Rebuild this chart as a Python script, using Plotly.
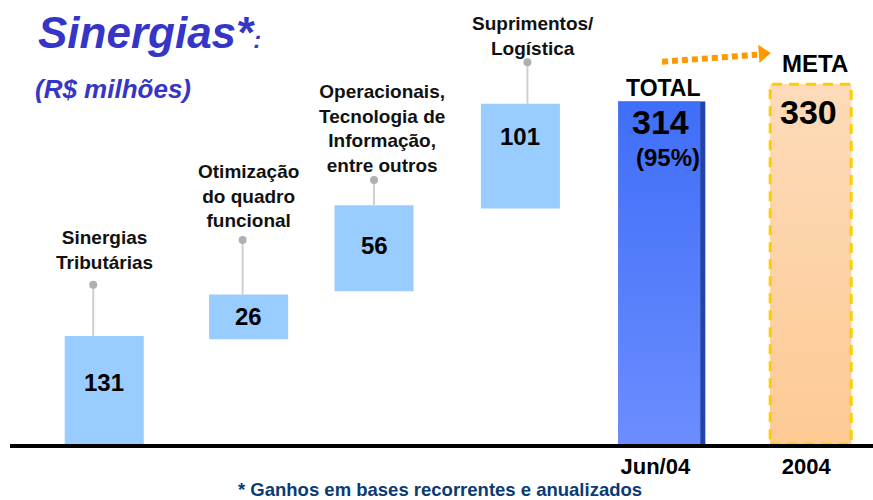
import plotly.graph_objects as go

# ---------------- data ----------------
categorias = ["Sinergias<br>Tributárias",
              "Otimização<br>do quadro<br>funcional",
              "Operacionais,<br>Tecnologia de<br>Informação,<br>entre outros",
              "Suprimentos/<br>Logística"]
valores = [131, 26, 56, 101]          # componentes (R$ milhões)
total_valor = 314
total_percentual = "(95%)"
meta_valor = 330
periodos = ["Jun/04", "2004"]
# extents as drawn in the (schematic) original chart, in chart units
base_desenho = [0, 96, 140, 216]
altura_desenho = [99, 41, 79, 96]
y_ponto = [146, 187, 242, 350]        # heights of the connector dots

# ---------------- styles ----------------
FONT = "Liberation Sans, Arial, sans-serif"
AZUL_CLARO = "#99ccff"
W_BAR = 0.563
W_TOT = 0.62
W_META = 0.577
PX = 140.4  # px per category unit
desloc_px = [2, 6, -9, -3, -2, 6.5]     # small horizontal nudges of each bar (px)
conector_px = [-11, -6, 0, 7]           # connector offset from bar centre (px)
rotulo_px = [0, 0, 8, 13]               # label offset from bar centre (px)
rotulo_yshift = [10, 7, 2, 1]

n = len(valores)
xs = list(range(n))
x_tot = n
x_meta = n + 1
d = [v / PX for v in desloc_px]

fig = go.Figure()

# component bars
fig.add_trace(go.Bar(x=xs, y=altura_desenho, base=base_desenho, width=W_BAR,
                     offset=[-W_BAR / 2 + d[i] for i in xs],
                     marker=dict(color=AZUL_CLARO, line=dict(width=0)),
                     hoverinfo="skip"))

# total bar: dark edge, gradient body, light left strip
xt0 = x_tot - W_TOT / 2 + d[4]
fig.add_trace(go.Bar(x=[x_tot], y=[total_valor], width=W_TOT, offset=xt0 - x_tot,
                     marker=dict(color="#2443a6", line=dict(width=0)), hoverinfo="skip"))
xt1 = xt0 + W_TOT - 5 / PX
fig.add_trace(go.Scatter(x=[xt0, xt0, xt1, xt1], y=[0, total_valor, total_valor, 0],
                         mode="lines", line=dict(width=0), fill="toself",
                         fillgradient=dict(type="vertical",
                                           colorscale=[[0, "#6b8dff"], [1, "#3f6ef7"]]),
                         hoverinfo="skip"))
fig.add_trace(go.Bar(x=[x_tot], y=[total_valor], width=4 / PX, offset=xt0 - x_tot,
                     marker=dict(color="#7d9cff", line=dict(width=0)), hoverinfo="skip"))

# meta bar
xm0 = x_meta - W_META / 2 + d[5]
xm1 = xm0 + W_META
fig.add_trace(go.Bar(x=[x_meta], y=[meta_valor], width=W_META, offset=xm0 - x_meta,
                     marker=dict(color="#fdd3a6", line=dict(width=0)), hoverinfo="skip"))
fig.add_trace(go.Scatter(x=[xm0, xm0, xm1, xm1], y=[0, meta_valor, meta_valor, 0],
                         mode="lines", line=dict(width=0), fill="toself",
                         fillgradient=dict(type="vertical",
                                           colorscale=[[0, "#fdca94"], [1, "#fddbba"]]),
                         hoverinfo="skip"))
fig.add_shape(type="rect", xref="x", yref="y", x0=xm0, x1=xm1, y0=0, y1=meta_valor,
              line=dict(color="#ffcc00", width=3, dash="10px,7px"), layer="above")

# connectors and dots
xc = [i + d[i] + conector_px[i] / PX for i in xs]
for i in xs:
    top = base_desenho[i] + altura_desenho[i]
    fig.add_trace(go.Scatter(x=[xc[i], xc[i]], y=[top, y_ponto[i]], mode="lines",
                             line=dict(color="#cfcfcf", width=2), hoverinfo="skip"))
fig.add_trace(go.Scatter(x=xc, y=y_ponto, mode="markers",
                         marker=dict(color="#b0b0b0", size=8), hoverinfo="skip"))

# dotted arrow towards META
fig.add_trace(go.Scatter(x=[x_tot - 0.013, x_tot + 0.664], y=[350.5, 357],
                         mode="lines", line=dict(color="#ff9900", width=6, dash="6px,4px"),
                         hoverinfo="skip"))
fig.add_trace(go.Scatter(x=[x_tot + 0.705], y=[358], mode="markers",
                         marker=dict(symbol="triangle-right", color="#ff9900", size=16,
                                     angle=-4, line=dict(width=0)),
                         hoverinfo="skip"))

ann = []
# category labels
for i in xs:
    ann.append(dict(x=i + d[i], y=y_ponto[i], xref="x", yref="y", text=categorias[i],
                    showarrow=False, yanchor="bottom", yshift=rotulo_yshift[i],
                    xshift=rotulo_px[i],
                    font=dict(family=FONT, size=19, color="#111111", weight="bold")))
# values inside bars
frac = [0.57, 0.5, 0.53, 0.69]
for i in xs:
    ann.append(dict(x=i + d[i], y=base_desenho[i] + altura_desenho[i] * frac[i],
                    xref="x", yref="y",
                    text=str(valores[i]), showarrow=False, yanchor="middle",
                    font=dict(family=FONT, size=24, color="#000000", weight="bold")))

# total / meta texts
ann += [
    dict(x=x_tot, y=total_valor, text="TOTAL", yanchor="middle", yshift=14, xshift=0,
         font=dict(family=FONT, size=23, color="#000000", weight="bold")),
    dict(x=x_tot, y=total_valor, text=str(total_valor), yanchor="middle", yshift=-20, xshift=-3,
         font=dict(family=FONT, size=34, color="#000000", weight="bold")),
    dict(x=x_tot, y=total_valor, text=total_percentual, yanchor="middle", yshift=-56, xshift=4,
         font=dict(family=FONT, size=24, color="#000000", weight="bold")),
    dict(x=x_meta, y=meta_valor, text="META", yanchor="middle", yshift=21, xshift=11,
         font=dict(family=FONT, size=24, color="#000000", weight="bold")),
    dict(x=x_meta, y=meta_valor, text=str(meta_valor), yanchor="middle", yshift=-28, xshift=4,
         font=dict(family=FONT, size=34, color="#000000", weight="bold")),
]
for a in ann[-5:]:
    a.update(xref="x", yref="y", showarrow=False)

# title, subtitle, footnote (paper coords)
def py2paper(py):
    return (444 - py) / 434

def px2paper(px):
    return (px - 10) / 863

ann += [
    dict(x=px2paper(36), y=py2paper(32), xref="paper", yref="paper", xanchor="left",
         yanchor="middle", showarrow=False,
         text="<i>Sinergias*</i><span style='font-size:24px'><i>:</i></span>",
         font=dict(family=FONT, size=44, color="#3535c8", weight="bold")),
    dict(x=px2paper(33), y=py2paper(89), xref="paper", yref="paper", xanchor="left",
         yanchor="middle", showarrow=False, text="<i>(R$ milhões)</i>",
         font=dict(family=FONT, size=26, color="#3535c8", weight="bold")),
    dict(x=px2paper(440), y=py2paper(489), xref="paper", yref="paper", xanchor="center",
         yanchor="middle", showarrow=False, text="* Ganhos em bases recorrentes e anualizados",
         font=dict(family=FONT, size=18.5, color="#0b3a74", weight="bold")),
]

fig.update_layout(
    width=873, height=500,
    margin=dict(l=10, r=0, t=10, b=56),
    paper_bgcolor="white", plot_bgcolor="white",
    barmode="overlay", showlegend=False,
    annotations=ann,
    xaxis=dict(range=[-0.657, 5.49], showgrid=False, zeroline=False,
               showline=True, linecolor="#000000", linewidth=4,
               tickvals=[x_tot - 8.5 / PX, x_meta + 2 / PX], ticktext=periodos, ticks="",
               tickfont=dict(family=FONT, size=22, color="#000000", weight="bold"),
               fixedrange=True),
    yaxis=dict(range=[0, 398], visible=False, showgrid=False, zeroline=False,
               fixedrange=True),
)

fig.write_html("out.html", config={"displayModeBar": False},
               post_script="document.body.style.margin='0';document.body.style.overflow='hidden';")
